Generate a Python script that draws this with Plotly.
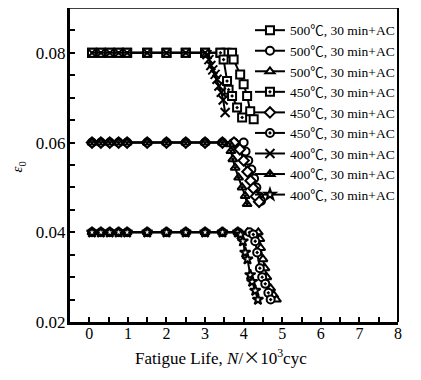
import plotly.graph_objects as go

# plateau cycles (x 10^3)
plateau_x = [0.07, 0.3, 0.53, 0.76, 0.98, 1.5, 2.0, 2.5, 3.0]

# strain amplitude 0.08 group
sq500_x = plateau_x + [3.4, 3.55, 3.7, 3.74, 3.91, 4.0, 4.09, 4.17, 4.26]
sq500_y = [0.08, 0.08, 0.08, 0.08, 0.08, 0.08, 0.08, 0.08, 0.08,
           0.08, 0.08, 0.08, 0.0785, 0.0752, 0.073, 0.0704, 0.067, 0.0652]
sq450_x = plateau_x + [3.4, 3.48, 3.57, 3.61, 3.70, 3.83, 3.96]
sq450_y = [0.08, 0.08, 0.08, 0.08, 0.08, 0.08, 0.08, 0.08, 0.08,
           0.08, 0.0785, 0.0737, 0.0718, 0.0704, 0.0678, 0.0656]
x400_x = plateau_x + [3.05, 3.1, 3.15, 3.2, 3.26, 3.31, 3.36, 3.42, 3.47, 3.52]
x400_y = [0.08, 0.08, 0.08, 0.08, 0.08, 0.08, 0.08, 0.08, 0.08,
          0.0796, 0.0785, 0.0772, 0.0762, 0.0752, 0.0741, 0.0726, 0.0712, 0.0695, 0.0667]

# strain amplitude 0.06 group
ci500_x = plateau_x + [3.45, 3.75, 4.0, 4.05, 4.12, 4.2, 4.27, 4.33, 4.4, 4.45]
ci500_y = [0.06, 0.06, 0.06, 0.06, 0.06, 0.06, 0.06, 0.06, 0.06,
           0.06, 0.06, 0.06, 0.058, 0.056, 0.054, 0.052, 0.05, 0.048, 0.047]
di450_x = plateau_x + [3.45, 3.75, 3.9, 4.0, 4.1, 4.18, 4.25, 4.32, 4.4]
di450_y = [0.06, 0.06, 0.06, 0.06, 0.06, 0.06, 0.06, 0.06, 0.06,
           0.06, 0.06, 0.0585, 0.056, 0.0535, 0.0515, 0.0498, 0.048, 0.0468]
tr400_x = plateau_x + [3.45, 3.65, 3.67, 3.72, 3.78, 3.87, 3.96, 4.04, 4.09]
tr400_y = [0.06, 0.06, 0.06, 0.06, 0.06, 0.06, 0.06, 0.06, 0.06,
           0.06, 0.0596, 0.0581, 0.0563, 0.0544, 0.0522, 0.05, 0.0481, 0.0463]

# strain amplitude 0.04 group
tr500_x = plateau_x + [3.45, 3.85, 4.1, 4.38, 4.42, 4.44, 4.5, 4.55, 4.6, 4.7, 4.78, 4.85]
tr500_y = [0.04, 0.04, 0.04, 0.04, 0.04, 0.04, 0.04, 0.04, 0.04,
           0.04, 0.04, 0.04, 0.04, 0.0385, 0.0365, 0.034, 0.032, 0.03, 0.0275, 0.026, 0.025]
ci450_x = plateau_x + [3.45, 3.85, 4.15, 4.25, 4.3, 4.35, 4.42, 4.48, 4.56, 4.64, 4.7]
ci450_y = [0.04, 0.04, 0.04, 0.04, 0.04, 0.04, 0.04, 0.04, 0.04,
           0.04, 0.04, 0.04, 0.0395, 0.038, 0.0355, 0.032, 0.03, 0.0285, 0.0265, 0.025]
st400_x = plateau_x + [3.45, 3.85, 3.92, 3.98, 4.04, 4.1, 4.17, 4.22, 4.3, 4.37]
st400_y = [0.04, 0.04, 0.04, 0.04, 0.04, 0.04, 0.04, 0.04, 0.04,
           0.04, 0.04, 0.0395, 0.038, 0.0355, 0.034, 0.0305, 0.029, 0.027, 0.025]

label500 = "500\u2103, 30 min+AC"
label450 = "450\u2103, 30 min+AC"
label400 = "400\u2103, 30 min+AC"

series = [
    (label500, sq500_x, sq500_y, "square"),
    (label500, ci500_x, ci500_y, "circle"),
    (label500, tr500_x, tr500_y, "triangle-up"),
    (label450, sq450_x, sq450_y, "square-dot"),
    (label450, di450_x, di450_y, "diamond"),
    (label450, ci450_x, ci450_y, "circle-dot"),
    (label400, x400_x, x400_y, "x-thin"),
    (label400, tr400_x, tr400_y, "triangle-up-dot"),
    (label400, st400_x, st400_y, "star"),
]

serif = "Times New Roman, Liberation Serif, Noto Sans CJK SC, serif"

fig = go.Figure()
for name, xs, ys, sym in series:
    if sym == "x-thin":
        marker = dict(symbol=sym, size=9, color="black",
                      line=dict(color="black", width=2))
    else:
        marker = dict(symbol=sym, size=8, color="white",
                      line=dict(color="black", width=2))
    fig.add_trace(go.Scatter(
        x=xs, y=ys, mode="lines+markers", name=name,
        line=dict(color="black", width=2),
        marker=marker,
    ))

fig.update_layout(
    width=413, height=372,
    margin=dict(l=62, r=23, t=0, b=58),
    paper_bgcolor="white", plot_bgcolor="white",
    font=dict(family=serif, color="black", size=15),
    legend=dict(
        x=1.006, y=0.978, xanchor="right", yanchor="top",
        bgcolor="rgba(0,0,0,0)",
        font=dict(family=serif, size=13.5, color="black"),
        tracegroupgap=0, itemwidth=30,
    ),
    xaxis=dict(
        range=[-0.5, 8], tickmode="linear", tick0=0, dtick=1,
        ticks="inside", ticklen=5, tickwidth=2, tickcolor="black",
        minor=dict(dtick=0.5, tick0=0, ticks="inside", ticklen=5, tickwidth=2, tickcolor="black"),
        showline=True, linewidth=3, linecolor="black", mirror=False,
        showgrid=False, zeroline=False, automargin=False,
        tickfont=dict(family=serif, size=16), ticklabelstandoff=-5,
    ),
    yaxis=dict(
        range=[0.02, 0.09], tickmode="linear", tick0=0.02, dtick=0.02,
        tickformat=".2f",
        ticks="inside", ticklen=5, tickwidth=2, tickcolor="black",
        minor=dict(dtick=0.005, tick0=0.02, ticks="inside", ticklen=5, tickwidth=2, tickcolor="black"),
        showline=True, linewidth=3, linecolor="black", mirror=False,
        showgrid=False, zeroline=False, automargin=False,
        tickfont=dict(family=serif, size=17), ticklabelstandoff=-2,
    ),
    annotations=[
        dict(text="Fatigue Life, <i>N</i>/<span style=\"font-family:'Noto Sans CJK SC'\">\u00d7</span>10<sup>3</sup>cyc",
             xref="paper", yref="paper", x=0.46, y=0, yshift=-34,
             xanchor="center", yanchor="middle", showarrow=False,
             font=dict(family=serif, size=17, color="black")),
        dict(text="<i>\u03b5</i><sub>0</sub>",
             xref="paper", yref="paper", x=0, y=0.492, xshift=-52,
             xanchor="center", yanchor="middle", showarrow=False, textangle=-90,
             font=dict(family=serif, size=15, color="black")),
    ],
    shapes=[
        dict(type="line", xref="paper", yref="paper", x0=0, x1=1, y0=1, y1=1,
             line=dict(color="black", width=1.5)),
        dict(type="line", xref="paper", yref="paper", x0=1, x1=1, y0=0, y1=1,
             line=dict(color="black", width=2)),
    ],
)

fig.write_html("out.html")
